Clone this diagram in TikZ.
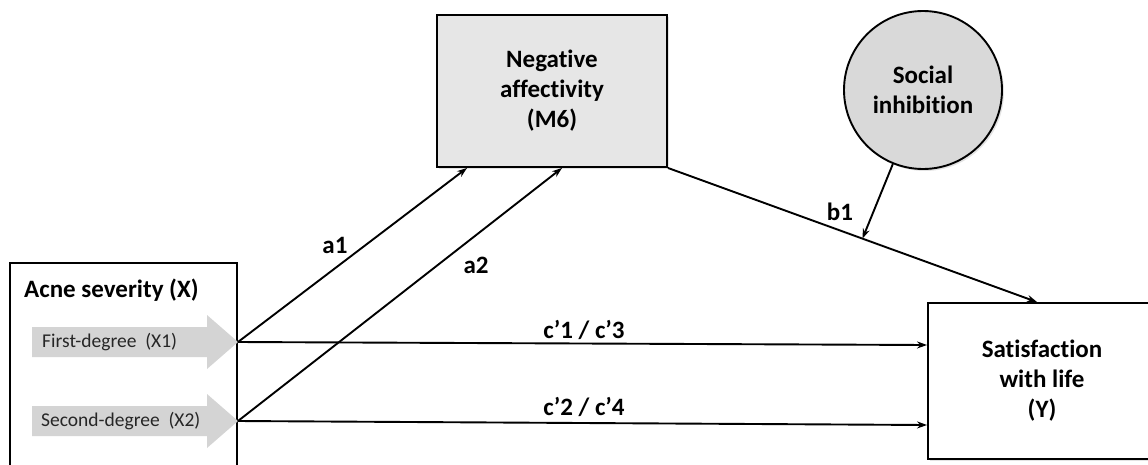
\documentclass[tikz,border=0pt]{standalone}
\usepackage{fontspec}
\setmainfont{Carlito}[RawFeature=-liga]
\usetikzlibrary{arrows.meta,calc,shadows}

\definecolor{nagray}{RGB}{230,230,230}
\definecolor{sigray}{RGB}{217,217,217}
\definecolor{arrowgray}{RGB}{212,212,212}
\definecolor{textgray}{RGB}{38,38,38}

\begin{document}
\begin{tikzpicture}[x=1pt,y=-1pt,
  box/.style={draw=black, line width=1.9pt, rectangle, inner sep=0pt},
  boldtxt/.style={font=\fontsize{25}{30}\selectfont\bfseries, align=center},
  pathlbl/.style={font=\fontsize{25}{28}\selectfont\bfseries, inner sep=0pt},
  levellbl/.style={font=\fontsize{19.5}{22}\selectfont, text=textgray, inner sep=0pt, anchor=west},
  conn/.style={line width=1.9pt, -{Stealth[length=10pt,width=7pt]}},
  softshadow/.style={drop shadow={opacity=0.22, shadow xshift=2pt, shadow yshift=-2pt}},
  pics/gradearrow/.style={code={
    \fill[arrowgray] (-206,-15) -- (-31,-15) -- (-31,-27) -- (0,0)
      -- (-31,27) -- (-31,15) -- (-206,15) -- cycle;
  }},
]
\useasboundingbox (0,0) rectangle (1148,464);
\clip (0,0) rectangle (1148,464);

% predictor block with its two levels
\node[box, fill=white, minimum width=227pt, minimum height=240pt] (acne) at (123.5,383) {};
\node[font=\fontsize{25}{28}\selectfont\bfseries, anchor=base west, inner sep=0pt] (acnelbl) at (24,297) {Acne severity (X)};

\pic at (238,342) {gradearrow};
\pic at (238,421) {gradearrow};
\coordinate (x1) at (238,342);
\coordinate (x2) at (238,421);
\node[levellbl] (x1lbl) at (42,342) {First-degree\ \ (X1)};
\node[levellbl] (x2lbl) at (41,421) {Second-degree\ \ (X2)};

% mediator, moderator and outcome
\node[box, fill=nagray, softshadow, minimum width=230pt, minimum height=152pt, boldtxt] (na) at (552,91) {Negative\\affectivity\\(M6)};
\node[circle, draw=black, line width=1.9pt, fill=sigray, softshadow, minimum size=158pt, inner sep=0pt, boldtxt] (si) at (923,90) {Social\\inhibition};
\node[box, fill=white, softshadow, minimum width=228pt, minimum height=156pt, boldtxt] (sw) at (1042,381) {Satisfaction\\with life\\(Y)};

% paths
\coordinate (naa1) at ($(na.south west)+(31,0)$);
\coordinate (naa2) at ($(na.south west)+(126,0)$);
\coordinate (swb) at ($(sw.north west)+(110,0)$);
\coordinate (swc1) at ($(sw.west)+(0,-36)$);
\coordinate (swc2) at ($(sw.west)+(0,44)$);

\draw[conn] (x1) -- (naa1);
\draw[conn] (x2) -- (naa2);
\draw[conn] (x1) -- (swc1);
\draw[conn] (x2) -- (swc2);
\draw[conn] (na.south east) -- coordinate[pos=0.527] (mod) (swb);
\draw[conn] (si) -- (mod);

% path labels
\node[pathlbl] (la1) at (335,245) {a1};
\node[pathlbl] (la2) at (476,265) {a2};
\node[pathlbl] (lc1) at (584,330) {c’1 / c’3};
\node[pathlbl] (lc2) at (584,407) {c’2 / c’4};
\node[pathlbl] (lb1) at (840,212) {b1};
\end{tikzpicture}
\end{document}
